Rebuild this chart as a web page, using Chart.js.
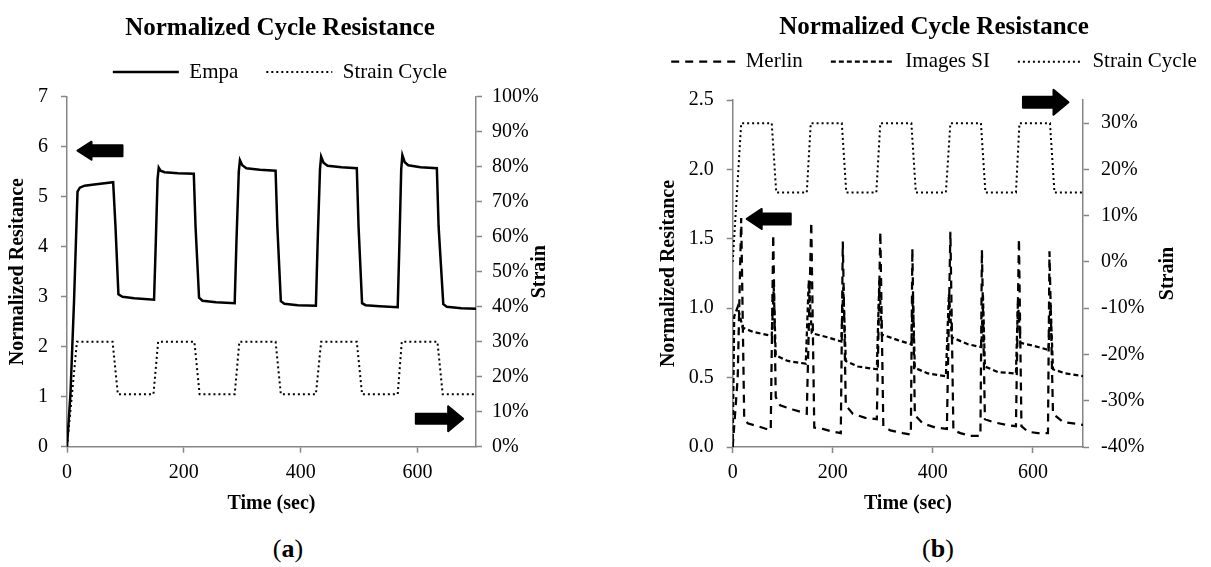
<!DOCTYPE html>
<html>
<head>
<meta charset="utf-8">
<script src="https://cdn.jsdelivr.net/npm/chart.js@4.4.1/dist/chart.umd.min.js"></script>
<style>
  html, body { margin: 0; padding: 0; background: #fff; overflow: hidden; width: 1211px; height: 567px; }
  canvas { position: absolute; top: 0; }
  #chartA { left: 0; }
  #chartB { left: 590px; }
  .cap { position: absolute; top: 534px; line-height: 30px; font: 26px "Liberation Serif", serif; color: #000; transform: translateX(-50%); }
</style>
</head>
<body>
<canvas id="chartA" width="600" height="525"></canvas>
<canvas id="chartB" width="700" height="525"></canvas>
<div class="cap" style="left:288px">(<b>a</b>)</div>
<div class="cap" style="left:938px">(<b>b</b>)</div>
<script>
  // ---------------------------------------------------------------
  // data (time in sec)
  // ---------------------------------------------------------------
  const strainTime = [0, 8, 17, 78, 87, 148, 156, 218, 227, 287, 295, 357, 366, 426, 435, 496, 505, 566, 573, 634, 643, 700];
  const strainPct  = [0, 14, 30, 30, 15, 15, 30, 30, 15, 15, 30, 30, 15, 15, 30, 30, 15, 15, 30, 30, 15, 15];

  const empaTime = [0, 6, 12, 18, 22, 30, 50, 79, 83, 88, 95, 115, 149, 152, 155, 157, 160, 167, 190, 217,
                    220, 226, 232, 255, 287, 290, 294, 296, 300, 307, 330, 357, 360, 366, 372, 395, 426,
                    429, 433, 435, 439, 446, 470, 496, 499, 505, 511, 535, 566, 569, 572, 574, 578, 584,
                    605, 633, 636, 644, 650, 675, 700];
  const empaRes  = [0, 1.07, 2.9, 5.1, 5.18, 5.22, 5.25, 5.29, 4.4, 3.05, 3.0, 2.97, 2.94, 4.1, 5.35, 5.58, 5.52, 5.49, 5.47, 5.46,
                    4.4, 2.98, 2.92, 2.89, 2.87, 4.1, 5.5, 5.73, 5.63, 5.57, 5.54, 5.52, 4.4, 2.91, 2.86, 2.83, 2.82,
                    4.1, 5.55, 5.8, 5.68, 5.62, 5.59, 5.57, 4.4, 2.87, 2.83, 2.81, 2.79, 4.1, 5.55, 5.83, 5.69, 5.63,
                    5.59, 5.57, 4.4, 2.85, 2.8, 2.77, 2.76];

  const merlinTime = [0, 10, 17, 23, 30, 50, 76, 81, 86, 95, 120, 148, 157, 163, 180, 200, 216, 220, 226, 240,
                      265, 288, 295, 301, 315, 340, 356, 359, 364, 380, 405, 428, 435, 441, 455, 475, 495,
                      498, 504, 520, 545, 566, 572, 577, 590, 610, 630, 633, 640, 660, 700];
  const merlinRes  = [0, 0.5, 1.65, 0.21, 0.17, 0.15, 0.12, 1.53, 0.36, 0.3, 0.27, 0.24, 1.62, 0.14, 0.13, 0.11, 0.1, 1.48, 0.3, 0.24,
                      0.21, 0.2, 1.55, 0.15, 0.12, 0.1, 0.09, 1.43, 0.23, 0.17, 0.14, 0.13, 1.55, 0.12, 0.1, 0.08, 0.08,
                      1.42, 0.2, 0.18, 0.16, 0.15, 1.5, 0.15, 0.11, 0.1, 0.1, 1.41, 0.24, 0.18, 0.16];

  const imagesTime = [0, 3, 10, 20, 40, 78, 82, 86, 110, 146, 152, 158, 190, 217, 221, 226, 250, 288, 293, 298,
                      330, 357, 360, 364, 390, 426, 432, 438, 470, 497, 500, 504, 530, 566, 570, 575, 600,
                      631, 635, 640, 665, 700];
  const imagesRes  = [0, 0.94, 1.01, 0.86, 0.83, 0.8, 1.15, 0.66, 0.62, 0.6, 1.2, 0.82, 0.79, 0.76, 1.15, 0.62, 0.58, 0.56, 1.2, 0.81,
                      0.77, 0.74, 1.1, 0.57, 0.53, 0.51, 1.1, 0.79, 0.74, 0.72, 1.1, 0.58, 0.54, 0.53, 1.05, 0.75, 0.73,
                      0.7, 1.05, 0.56, 0.53, 0.51];

  // arrows (in data units of the axis they point to)
  const arrowsA = [
    { xAxis: "x", yAxis: "y",  from: 95,  to: 18,  at: 5.92, body: 11, head: 18, headLen: 14 },
    { xAxis: "x", yAxis: "y2", from: 597, to: 678, at: 8,    body: 10, head: 25, headLen: 15 }
  ];
  const arrowsB = [
    { xAxis: "x", yAxis: "y2", from: 580, to: 671, at: 34.5,  body: 11, head: 25, headLen: 15 },
    { xAxis: "x", yAxis: "y",  from: 116, to: 28,  at: 1.643, body: 11, head: 20, headLen: 15 }
  ];

  // ---------------------------------------------------------------
  // helpers
  // ---------------------------------------------------------------
  Chart.defaults.font.family = "'Liberation Serif', 'Times New Roman', serif";
  Chart.defaults.color = "#000";

  const GREY = "#868686";
  const pts = (xs, ys) => xs.map((x, i) => ({ x: x, y: ys[i] }));

  function lineSet(label, data, yAxisID, width, dash) {
    return {
      label, data, yAxisID, xAxisID: "x",
      borderColor: "#000", backgroundColor: "#000",
      borderWidth: width, borderDash: dash,
      pointRadius: 0, pointHoverRadius: 0,
      tension: 0, fill: false
    };
  }

  function axis(extra) {
    return Object.assign({
      type: "linear",
      border: { display: true, color: GREY, width: 1.5 },
      grid: { display: true, drawOnChartArea: false, drawTicks: true, tickLength: 6, tickColor: GREY, tickWidth: 1.5 },
      ticks: { font: { size: 20 }, color: "#000", includeBounds: false }
    }, extra);
  }

  function arrowPlugin(list) {
    return {
      id: "arrows",
      afterDatasetsDraw(chart) {
        const ctx = chart.ctx;
        list.forEach(a => {
          const xs = chart.scales[a.xAxis], ys = chart.scales[a.yAxis];
          const x0 = xs.getPixelForValue(a.from), x1 = xs.getPixelForValue(a.to);
          const y = ys.getPixelForValue(a.at);
          const dir = Math.sign(x1 - x0);
          const xb = x1 - dir * a.headLen;
          ctx.save();
          ctx.fillStyle = "#000";
          ctx.strokeStyle = "#000";
          ctx.lineWidth = 2;
          ctx.lineJoin = "round";
          ctx.beginPath();
          ctx.moveTo(x0, y - a.body / 2);
          ctx.lineTo(xb, y - a.body / 2);
          ctx.lineTo(xb, y - a.head / 2);
          ctx.lineTo(x1, y);
          ctx.lineTo(xb, y + a.head / 2);
          ctx.lineTo(xb, y + a.body / 2);
          ctx.lineTo(x0, y + a.body / 2);
          ctx.closePath();
          ctx.fill();
          ctx.stroke();
          ctx.restore();
        });
      }
    };
  }

  // right-hand axis title, rotated like the left one (reads bottom to top)
  function sideTitlePlugin(axisId, text, inset) {
    return {
      id: "sideTitle",
      afterDraw(chart) {
        const s = chart.scales[axisId], ctx = chart.ctx;
        const x = s.right - inset;
        const y = (chart.chartArea.top + chart.chartArea.bottom) / 2;
        ctx.save();
        ctx.translate(x, y);
        ctx.rotate(-Math.PI / 2);
        ctx.font = "bold 20px 'Liberation Serif', 'Times New Roman', serif";
        ctx.fillStyle = "#000";
        ctx.textAlign = "center";
        ctx.textBaseline = "middle";
        ctx.fillText(text, 0, 0);
        ctx.restore();
      }
    };
  }

  function legendOpts(sampleWidth) {
    return {
      display: true,
      position: "top",
      labels: {
        usePointStyle: true,
        pointStyle: "line",
        pointStyleWidth: sampleWidth,
        padding: 28,
        color: "#000",
        font: { size: 21 },
        generateLabels: chart => chart.data.datasets.map((ds, i) => ({
          text: ds.label,
          fillStyle: ds.borderColor,
          strokeStyle: ds.borderColor,
          lineWidth: ds.borderWidth,
          lineDash: ds.borderDash || [],
          lineCap: "butt",
          pointStyle: "line",
          hidden: false,
          datasetIndex: i,
          fontColor: "#000"
        }))
      }
    };
  }

  function gapAxis(h) {
    return {
      type: "linear", position: "top", display: true, min: 0, max: 1,
      grid: { display: false }, border: { display: false }, ticks: { display: false },
      afterFit: s => { s.height = h; }
    };
  }

  // ---------------------------------------------------------------
  // (a) Empa
  // ---------------------------------------------------------------
  new Chart(document.getElementById("chartA"), {
    type: "line",
    data: {
      datasets: [
        lineSet("Empa", pts(empaTime, empaRes), "y", 2.5, []),
        lineSet("Strain Cycle", pts(strainTime, strainPct), "y2", 2, [2, 3])
      ]
    },
    options: {
      responsive: false,
      animation: false,
      devicePixelRatio: 1,
      layout: { padding: { left: 0, right: 40, top: 0, bottom: 0 } },
      plugins: {
        title: {
          display: true, text: "Normalized Cycle Resistance", color: "#000",
          font: { size: 25, weight: "bold" }, padding: { top: 14, bottom: -10.5 }
        },
        legend: legendOpts(66),
        tooltip: { enabled: false }
      },
      scales: {
        x: axis({
          position: "bottom", min: 0, max: 700,
          ticks: { font: { size: 20 }, color: "#000", stepSize: 200, includeBounds: false, padding: 8, maxRotation: 0 },
          title: { display: true, text: "Time (sec)", font: { size: 20, weight: "bold" }, padding: { top: 0, bottom: 9 } },
          afterFit: s => { s.height = 78.3; }
        }),
        gap: gapAxis(4.2),
        y: axis({
          position: "left", min: 0, max: 7,
          ticks: { font: { size: 20 }, color: "#000", stepSize: 1, includeBounds: false, padding: 13 },
          title: { display: true, text: "Normalized Resitance", font: { size: 20, weight: "bold" }, padding: { top: 6, bottom: 0 } },
          afterFit: s => { s.width = 67; }
        }),
        y2: axis({
          position: "right", min: 0, max: 100,
          ticks: { font: { size: 20 }, color: "#000", stepSize: 10, includeBounds: false, padding: 10,
                   callback: v => Math.round(v) + "%" },
          title: { display: false },
          afterFit: s => { s.width = 84; }
        })
      }
    },
    plugins: [arrowPlugin(arrowsA), sideTitlePlugin("y2", "Strain", 20)]
  });

  // ---------------------------------------------------------------
  // (b) Merlin / Images SI
  // ---------------------------------------------------------------
  new Chart(document.getElementById("chartB"), {
    type: "line",
    data: {
      datasets: [
        lineSet("Merlin", pts(merlinTime, merlinRes), "y", 2.25, [8, 6]),
        lineSet("Images SI", pts(imagesTime, imagesRes), "y", 2.25, [5, 3]),
        lineSet("Strain Cycle", pts(strainTime, strainPct), "y2", 2, [2, 3])
      ]
    },
    options: {
      responsive: false,
      animation: false,
      devicePixelRatio: 1,
      layout: { padding: { left: 40, right: 52, top: 0, bottom: 0 } },
      plugins: {
        title: {
          display: true, text: "Normalized Cycle Resistance", color: "#000",
          font: { size: 25, weight: "bold" }, padding: { top: 13, bottom: -19.8 }
        },
        legend: legendOpts(64),
        tooltip: { enabled: false }
      },
      scales: {
        x: axis({
          position: "bottom", min: 0, max: 700,
          ticks: { font: { size: 20 }, color: "#000", stepSize: 200, includeBounds: false, padding: 8, maxRotation: 0 },
          title: { display: true, text: "Time (sec)", font: { size: 20, weight: "bold" }, padding: { top: 0, bottom: 9 } },
          afterFit: s => { s.height = 78; }
        }),
        gap: gapAxis(17.8),
        y: axis({
          position: "left", min: 0, max: 2.5,
          ticks: { font: { size: 20 }, color: "#000", stepSize: 0.5, includeBounds: false, padding: 13,
                   callback: v => Number(v).toFixed(1) },
          title: { display: true, text: "Normalized Resitance", font: { size: 20, weight: "bold" }, padding: { top: 27, bottom: 0 } },
          afterFit: s => { s.width = 102.7; }
        }),
        y2: axis({
          position: "right", min: -40, max: 35,
          ticks: { font: { size: 20 }, color: "#000", stepSize: 10, includeBounds: false, padding: 12,
                   callback: v => Math.round(v) + "%" },
          title: { display: false },
          afterFit: s => { s.width = 155; }
        })
      }
    },
    plugins: [arrowPlugin(arrowsB), sideTitlePlugin("y2", "Strain", 70)]
  });
</script>
</body>
</html>
